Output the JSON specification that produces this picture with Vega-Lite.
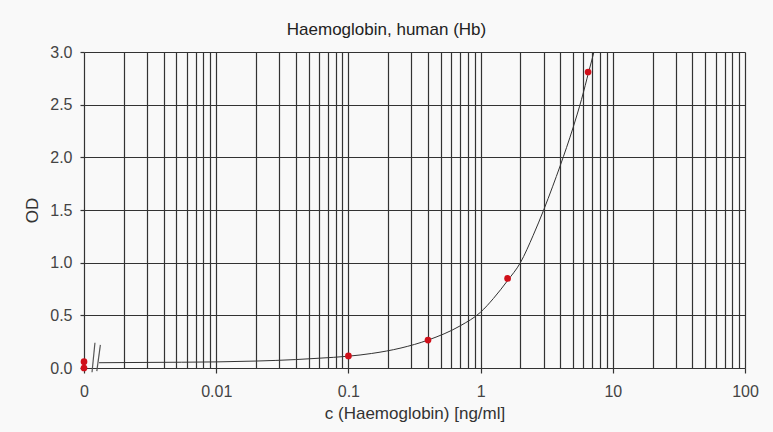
{
  "$schema": "https://vega.github.io/schema/vega-lite/v6.json",
  "width": 661,
  "height": 316,
  "autosize": {"type": "none"},
  "padding": {"left": 84, "top": 52, "right": 28, "bottom": 64},
  "background": "#f9f9f9",
  "title": {
    "text": "Haemoglobin, human (Hb)",
    "font": "Liberation Sans",
    "fontSize": 17,
    "fontWeight": "normal",
    "color": "#222222",
    "anchor": "middle",
    "frame": "group",
    "dx": -28,
    "offset": 5
  },
  "datasets": {
    "points": [
      {"c": 0.001, "od": 0.0},
      {"c": 0.001, "od": 0.06},
      {"c": 0.1, "od": 0.115},
      {"c": 0.4, "od": 0.265},
      {"c": 1.6, "od": 0.85},
      {"c": 6.5, "od": 2.81}
    ],
    "curve": [
      {"c": 0.0013, "od": 0.05},
      {"c": 0.003, "od": 0.053},
      {"c": 0.01, "od": 0.058},
      {"c": 0.02, "od": 0.066},
      {"c": 0.04, "od": 0.08},
      {"c": 0.06, "od": 0.093},
      {"c": 0.1, "od": 0.112},
      {"c": 0.15, "od": 0.138},
      {"c": 0.25, "od": 0.19},
      {"c": 0.4, "od": 0.265},
      {"c": 0.7, "od": 0.4},
      {"c": 1.0, "od": 0.53},
      {"c": 1.25, "od": 0.66},
      {"c": 1.6, "od": 0.83},
      {"c": 2.0, "od": 1.0},
      {"c": 2.5, "od": 1.26},
      {"c": 3.0, "od": 1.5},
      {"c": 3.5, "od": 1.72},
      {"c": 4.0, "od": 1.92},
      {"c": 5.0, "od": 2.28},
      {"c": 5.8, "od": 2.55},
      {"c": 6.6, "od": 2.82},
      {"c": 7.2, "od": 3.0}
    ],
    "breaks": [
      {"c": 0.00115, "od": -0.04, "c2": 0.00121, "od2": 0.24},
      {"c": 0.00125, "od": -0.03, "c2": 0.00133, "od2": 0.22}
    ]
  },
  "config": {
    "view": {"stroke": null},
    "font": "Liberation Sans"
  },
  "encoding": {
    "x": {
      "field": "c",
      "type": "quantitative",
      "scale": {"type": "log", "domain": [0.001, 100], "nice": false},
      "axis": {
        "title": "c (Haemoglobin) [ng/ml]",
        "titleFontSize": 17,
        "titleFontWeight": "normal",
        "titleColor": "#333333",
        "titlePadding": 6,
        "values": [0.001,0.002,0.003,0.004,0.005,0.006,0.007,0.008,0.009,0.01,0.02,0.03,0.04,0.05,0.06,0.07,0.08,0.09,0.1,0.2,0.3,0.4,0.5,0.6,0.7,0.8,0.9,1,2,3,4,5,6,7,8,9,10,20,30,40,50,60,70,80,90,100],
        "format": "~g",
        "labelExpr": "abs(log(datum.value)/LN10 - round(log(datum.value)/LN10)) < 1e-6 ? (datum.value < 0.005 ? '0' : datum.label) : ''",
        "labelFontSize": 16,
        "labelColor": "#444444",
        "labelPadding": 10,
        "labelOverlap": false,
        "labelFlush": false,
        "domain": false,
        "grid": true,
        "gridColor": "#333333",
        "gridWidth": 1.2,
        "gridOpacity": 1,
        "ticks": true,
        "tickSize": 5,
        "tickWidth": 1.2,
        "tickColor": {"condition": {"test": "abs(log(datum.value)/LN10 - round(log(datum.value)/LN10)) < 1e-6", "value": "#333333"}, "value": "transparent"}
      }
    },
    "y": {
      "field": "od",
      "type": "quantitative",
      "scale": {"domain": [0, 3], "nice": false, "zero": false},
      "axis": {
        "title": "OD",
        "titleFontSize": 17,
        "titleFontWeight": "normal",
        "titleColor": "#333333",
        "titlePadding": 8,
        "values": [0, 0.5, 1, 1.5, 2, 2.5, 3],
        "format": ".1f",
        "labelFontSize": 16,
        "labelColor": "#444444",
        "labelPadding": 8,
        "domain": false,
        "grid": true,
        "gridColor": "#333333",
        "gridWidth": 1.2,
        "gridOpacity": 1,
        "tickColor": "#333333",
        "tickWidth": 1.2,
        "tickSize": 4
      }
    }
  },
  "layer": [
    {
      "data": {"name": "curve"},
      "mark": {"type": "line", "color": "#333333", "strokeWidth": 1, "interpolate": "monotone"}
    },
    {
      "data": {"name": "breaks"},
      "mark": {"type": "rule", "color": "#555555", "strokeWidth": 1.2, "clip": false},
      "encoding": {
        "x2": {"field": "c2"},
        "y2": {"field": "od2"}
      }
    },
    {
      "data": {"name": "points"},
      "mark": {"type": "point", "shape": "circle", "filled": true, "color": "#d0101a", "size": 45, "opacity": 1}
    }
  ]
}
